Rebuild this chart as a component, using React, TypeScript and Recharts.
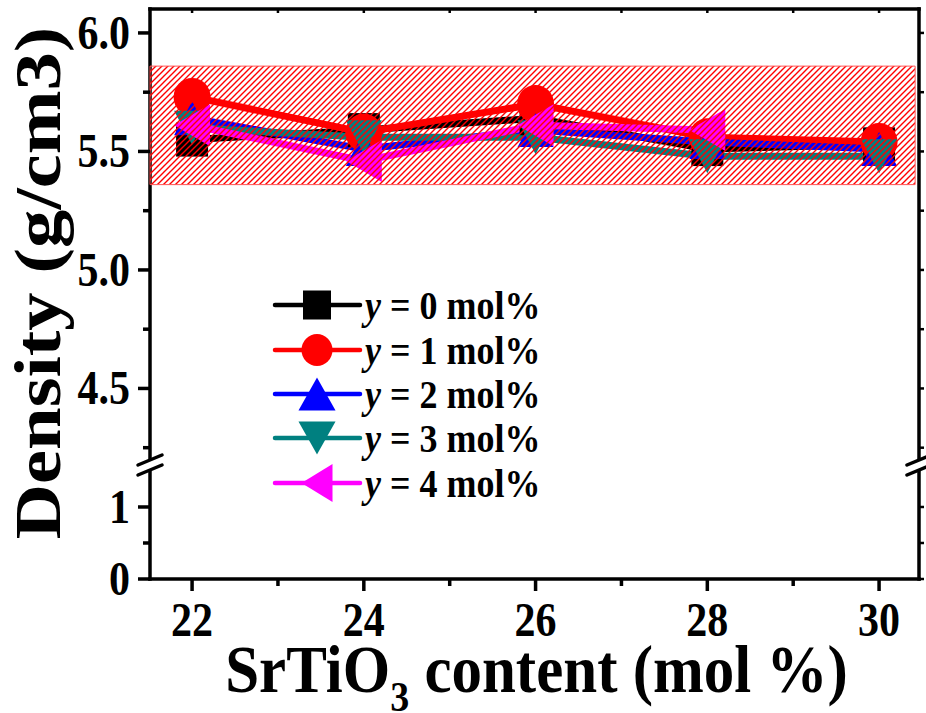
import React from 'react';
import { LineChart, Line, XAxis, YAxis, ReferenceArea, Legend } from 'recharts';

// ---------------- data ----------------
const xValues = [22, 24, 26, 28, 30];
const densityY0 = [5.55, 5.59, 5.64, 5.51, 5.53];
const densityY1 = [5.73, 5.58, 5.70, 5.56, 5.54];
const densityY2 = [5.64, 5.51, 5.59, 5.54, 5.51];
const densityY3 = [5.60, 5.56, 5.56, 5.48, 5.48];
const densityY4: (number | null)[] = [5.61, 5.46, 5.61, 5.59, null];

const seriesKeys = ['y0', 'y1', 'y2', 'y3', 'y4'];
const seriesLevels = ['0', '1', '2', '3', '4'];
const seriesColors = ['#000000', '#FF0000', '#0000FF', '#008080', '#FF00FF'];
const seriesShapes = ['square', 'circle', 'up', 'down', 'left'];
const seriesValues = [densityY0, densityY1, densityY2, densityY3, densityY4];

const xTicksAll = [22, 23, 24, 25, 26, 27, 28, 29, 30];
const xTicksMajor = [22, 24, 26, 28, 30];
const xTickLabels = ['22', '24', '26', '28', '30'];

const upperYTicksAll = [4.25, 4.5, 4.75, 5.0, 5.25, 5.5, 5.75, 6.0];
const upperYTicksMajor = [4.5, 5.0, 5.5, 6.0];
const upperYTickLabels = ['4.5', '5.0', '5.5', '6.0'];

const lowerYTicksAll = [0, 0.5, 1];
const lowerYTicksMajor = [0, 1];
const lowerYTickLabels = ['0', '1'];

const xDomain = [21.51, 30.465];
const upperYDomain = [4.177, 6.101];
const lowerYDomain = [0, 1.583];
const bandX = [21.51, 30.42];
const bandY = [5.36, 5.86];

const xTitleMain = 'SrTiO';
const xTitleSub = '3';
const xTitleRest = ' content (mol %)';
const yTitle = 'Density (g/cm3)';

const data = xValues.map((x, i) => {
  const row: any = { x };
  seriesKeys.forEach((k, s) => {
    row[k] = seriesValues[s][i];
  });
  return row;
});

// ---------------- layout / style ----------------
const W = 926;
const H = 713;
const PLOT_LEFT = 150;
const PLOT_RIGHT = 919;
const PLOT_TOP = 9;
const BREAK_Y = 465;
const PLOT_BOTTOM = 579;
const FONT = '"Liberation Serif", "Times New Roman", Times, serif';
const STRETCH = 1.14;
const AXIS_W = 3.5;

const plotMarker: any = {
  square: [32, 34],
  circle: [37, 38],
  up: [36, 34],
  down: [36, 34],
  left: [36, 42],
};
const legendMarker: any = {
  square: [28, 29],
  circle: [31, 32],
  up: [37, 33],
  down: [37, 33],
  left: [31, 38],
};

function Marker({ shape, cx, cy, color, sizes }: any) {
  const [w, h] = sizes[shape];
  const hw = w / 2;
  const hh = h / 2;
  switch (shape) {
    case 'square':
      return <rect x={cx - hw} y={cy - hh} width={w} height={h} fill={color} />;
    case 'circle':
      return <ellipse cx={cx} cy={cy} rx={hw} ry={hh} fill={color} />;
    case 'up':
      return <polygon points={`${cx},${cy - hh} ${cx + hw},${cy + hh} ${cx - hw},${cy + hh}`} fill={color} />;
    case 'down':
      return <polygon points={`${cx - hw},${cy - hh} ${cx + hw},${cy - hh} ${cx},${cy + hh}`} fill={color} />;
    default:
      return <polygon points={`${cx - hw},${cy} ${cx + hw},${cy - hh} ${cx + hw},${cy + hh}`} fill={color} />;
  }
}

function majorIndex(majors: number[], v: number) {
  return majors.findIndex((m) => Math.abs(m - v) < 1e-6);
}

function LeftTick(props: any) {
  const { x, y, payload, majors, labels } = props;
  const idx = majorIndex(majors, payload.value);
  const len = idx >= 0 ? 12 : 7;
  return (
    <g>
      <line x1={x - len} y1={y} x2={x} y2={y} stroke="#000" strokeWidth={AXIS_W} />
      {idx >= 0 && (
        <text
          transform={`translate(${x - 20},${y}) scale(1,${STRETCH})`}
          textAnchor="end"
          dominantBaseline="central"
          fontFamily={FONT}
          fontWeight="bold"
          fontSize={42}
          fill="#000"
        >
          {labels[idx]}
        </text>
      )}
    </g>
  );
}

function RightTick(props: any) {
  const { x, y } = props;
  return <line x1={x} y1={y} x2={x + 5} y2={y} stroke="#000" strokeWidth={2.5} />;
}

function TopTick(props: any) {
  const { x, y } = props;
  return <line x1={x} y1={y} x2={x} y2={y + 4} stroke="#000" strokeWidth={2.5} />;
}

function BottomTick(props: any) {
  const { x, y, payload } = props;
  const idx = majorIndex(xTicksMajor, payload.value);
  const len = idx >= 0 ? 12 : 7;
  return (
    <g>
      <line x1={x} y1={y} x2={x} y2={y + len} stroke="#000" strokeWidth={AXIS_W} />
      {idx >= 0 && (
        <text
          transform={`translate(${x},${y + 41}) scale(1,${STRETCH})`}
          textAnchor="middle"
          dominantBaseline="central"
          fontFamily={FONT}
          fontWeight="bold"
          fontSize={42}
          fill="#000"
        >
          {xTickLabels[idx]}
        </text>
      )}
    </g>
  );
}

function renderXTitle() {
  const cx = (PLOT_LEFT + PLOT_RIGHT) / 2 + 2;
  return (
    <text
      transform={`translate(${cx},692) scale(1,1.1)`}
      textAnchor="middle"
      fontFamily={FONT}
      fontWeight="bold"
      fontSize={61}
      fill="#000"
    >
      <tspan>{xTitleMain}</tspan>
      <tspan fontSize={38} dy={17}>{xTitleSub}</tspan>
      <tspan dy={-17}>{xTitleRest}</tspan>
    </text>
  );
}

function renderYTitle() {
  return (
    <text
      transform={`translate(37,283) scale(1,1.16) rotate(-90)`}
      textAnchor="middle"
      dominantBaseline="central"
      fontFamily={FONT}
      fontWeight="bold"
      fontSize={66}
      fill="#000"
    >
      {yTitle}
    </text>
  );
}

function LegendBox() {
  const rowY = [25, 70, 114, 158, 203];
  return (
    <svg width={300} height={230} style={{ overflow: 'visible' }}>
      {seriesKeys.map((k, i) => (
        <g key={k}>
          <line x1={9} y1={rowY[i]} x2={94} y2={rowY[i]} stroke={seriesColors[i]} strokeWidth={4.5} strokeLinecap="round" />
          <Marker shape={seriesShapes[i]} cx={51} cy={rowY[i]} color={seriesColors[i]} sizes={legendMarker} />
          <text
            transform={`translate(99,${rowY[i]}) scale(1,1.12)`}
            dominantBaseline="central"
            fontFamily={FONT}
            fontWeight="bold"
            fontSize={36}
            fill="#000"
          >
            <tspan fontStyle="italic">y</tspan>
            <tspan>{' = ' + seriesLevels[i] + ' mol%'}</tspan>
          </text>
        </g>
      ))}
    </svg>
  );
}

const axisLine = { stroke: '#000', strokeWidth: AXIS_W, strokeLinecap: 'square' as const };

function UpperChart() {
  return (
    <LineChart width={W} height={H} data={data} margin={{ top: 0, right: 0, bottom: H - BREAK_Y, left: 0 }}>
      <defs>
        <pattern id="redHatch" patternUnits="userSpaceOnUse" width={6} height={6}>
          <path d="M0,6 L6,0 M-1.5,1.5 L1.5,-1.5 M4.5,7.5 L7.5,4.5" fill="none" stroke="#FF0000" strokeWidth={1.4} />
        </pattern>
      </defs>
      <XAxis
        xAxisId="top"
        orientation="top"
        dataKey="x"
        type="number"
        domain={xDomain}
        ticks={xTicksAll}
        interval={0}
        height={PLOT_TOP}
        allowDataOverflow
        axisLine={axisLine}
        tickLine={false}
        tickSize={0}
        tickMargin={0}
        tick={(p: any) => <TopTick {...p} />}
      />
      <YAxis
        yAxisId="left"
        orientation="left"
        type="number"
        domain={upperYDomain}
        ticks={upperYTicksAll}
        interval={0}
        width={PLOT_LEFT}
        allowDataOverflow
        axisLine={axisLine}
        tickLine={false}
        tickSize={0}
        tickMargin={0}
        tick={(p: any) => <LeftTick {...p} majors={upperYTicksMajor} labels={upperYTickLabels} />}
        label={renderYTitle}
      />
      <YAxis
        yAxisId="right"
        orientation="right"
        type="number"
        domain={upperYDomain}
        ticks={upperYTicksAll}
        interval={0}
        width={W - PLOT_RIGHT}
        allowDataOverflow
        axisLine={axisLine}
        tickLine={false}
        tickSize={0}
        tickMargin={0}
        tick={(p: any) => <RightTick {...p} />}
      />
      {seriesKeys.map((k, i) => (
        <Line
          key={k}
          xAxisId="top"
          yAxisId="left"
          dataKey={k}
          stroke={seriesColors[i]}
          strokeWidth={7}
          isAnimationActive={false}
          connectNulls={false}
          dot={(p: any) =>
            p.cy == null || p.value == null ? (
              <g key={`${k}-${p.index}`} />
            ) : (
              <Marker key={`${k}-${p.index}`} shape={seriesShapes[i]} cx={p.cx} cy={p.cy} color={seriesColors[i]} sizes={plotMarker} />
            )
          }
          activeDot={false}
        />
      ))}
      <ReferenceArea
        xAxisId="top"
        yAxisId="left"
        x1={bandX[0]}
        x2={bandX[1]}
        y1={bandY[0]}
        y2={bandY[1]}
        fill="url(#redHatch)"
        fillOpacity={1}
        stroke="#FF5555"
        strokeWidth={1}
        ifOverflow="visible"
        {...({ zIndex: 700 } as any)}
      />
      <Legend
        layout="vertical"
        align="center"
        verticalAlign="middle"
        wrapperStyle={{ left: 266, top: 280, width: 320, height: 230 }}
        content={() => <LegendBox />}
      />
    </LineChart>
  );
}

function LowerChart() {
  return (
    <LineChart width={W} height={H} data={data} margin={{ top: BREAK_Y, right: 0, bottom: 0, left: 0 }}>
      <XAxis
        xAxisId="bottom"
        orientation="bottom"
        dataKey="x"
        type="number"
        domain={xDomain}
        ticks={xTicksAll}
        interval={0}
        height={H - PLOT_BOTTOM}
        allowDataOverflow
        axisLine={axisLine}
        tickLine={false}
        tickSize={0}
        tickMargin={0}
        tick={(p: any) => <BottomTick {...p} />}
        label={renderXTitle}
      />
      <YAxis
        yAxisId="left"
        orientation="left"
        type="number"
        domain={lowerYDomain}
        ticks={lowerYTicksAll}
        interval={0}
        width={PLOT_LEFT}
        allowDataOverflow
        axisLine={axisLine}
        tickLine={false}
        tickSize={0}
        tickMargin={0}
        tick={(p: any) => <LeftTick {...p} majors={lowerYTicksMajor} labels={lowerYTickLabels} />}
      />
      <YAxis
        yAxisId="right"
        orientation="right"
        type="number"
        domain={lowerYDomain}
        ticks={lowerYTicksAll}
        interval={0}
        width={W - PLOT_RIGHT}
        allowDataOverflow
        axisLine={axisLine}
        tickLine={false}
        tickSize={0}
        tickMargin={0}
        tick={(p: any) => <RightTick {...p} />}
      />
    </LineChart>
  );
}

function BreakMarks() {
  return (
    <svg width={W} height={H} style={{ position: 'absolute', left: 0, top: 0, pointerEvents: 'none' }}>
      {[PLOT_LEFT, PLOT_RIGHT].map((cx) => (
        <g key={cx}>
          <polygon
            points={`${cx - 12},${BREAK_Y} ${cx + 12},${BREAK_Y - 10} ${cx + 12},${BREAK_Y} ${cx - 12},${BREAK_Y + 10}`}
            fill="#fff"
          />
          <line x1={cx - 12} y1={BREAK_Y} x2={cx + 12} y2={BREAK_Y - 10} stroke="#000" strokeWidth={3.5} strokeLinecap="round" />
          <line x1={cx - 12} y1={BREAK_Y + 10} x2={cx + 12} y2={BREAK_Y} stroke="#000" strokeWidth={3.5} strokeLinecap="round" />
        </g>
      ))}
    </svg>
  );
}

export default function App() {
  return (
    <div style={{ position: 'absolute', left: 0, top: 0, width: W, height: H, background: '#fff', overflow: 'hidden' }}>
      <div style={{ position: 'absolute', left: 0, top: 0 }}>
        <LowerChart />
      </div>
      <div style={{ position: 'absolute', left: 0, top: 0 }}>
        <UpperChart />
      </div>
      <BreakMarks />
    </div>
  );
}
